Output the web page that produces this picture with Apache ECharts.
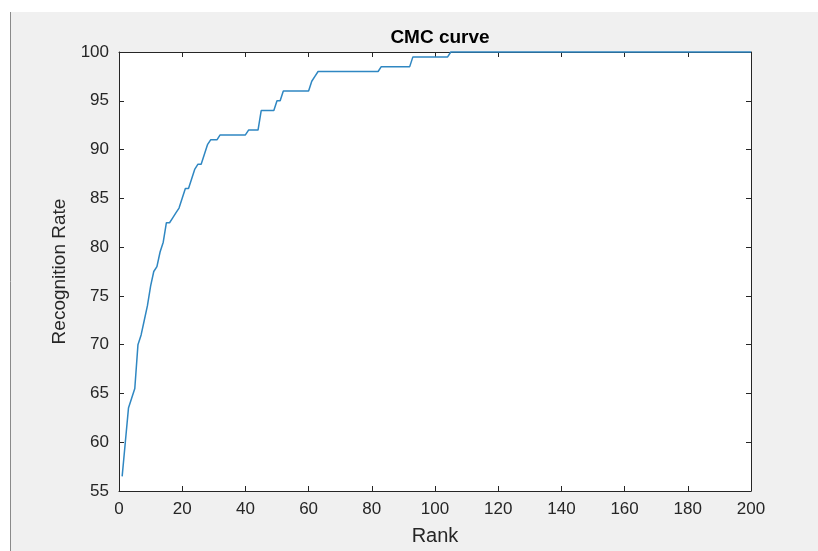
<!DOCTYPE html>
<html>
<head>
<meta charset="utf-8">
<title>CMC curve</title>
<script src="https://cdn.jsdelivr.net/npm/echarts@6/dist/echarts.min.js"></script>
<style>
html,body{margin:0;padding:0;background:#fff;}
#main{width:818px;height:551px;}
</style>
</head>
<body>
<div id="main"></div>
<script>
// rank 1..200 and the recognition rate (%)
var ranks = [];
for (var i = 1; i <= 200; i++) ranks.push(i);
var rates = [
	56.5, 60, 63.5, 64.5, 65.5, 70, 71, 72.5, 74, 76,
	77.5, 78, 79.5, 80.5, 82.5, 82.5, 83, 83.5, 84, 85,
	86, 86, 87, 88, 88.5, 88.5, 89.5, 90.5, 91, 91,
	91, 91.5, 91.5, 91.5, 91.5, 91.5, 91.5, 91.5, 91.5, 91.5,
	92, 92, 92, 92, 94, 94, 94, 94, 94, 95,
	95, 96, 96, 96, 96, 96, 96, 96, 96, 96,
	97, 97.5, 98, 98, 98, 98, 98, 98, 98, 98,
	98, 98, 98, 98, 98, 98, 98, 98, 98, 98,
	98, 98, 98.5, 98.5, 98.5, 98.5, 98.5, 98.5, 98.5, 98.5,
	98.5, 98.5, 99.5, 99.5, 99.5, 99.5, 99.5, 99.5, 99.5, 99.5,
	99.5, 99.5, 99.5, 99.5, 100, 100, 100, 100, 100, 100,
	100, 100, 100, 100, 100, 100, 100, 100, 100, 100,
	100, 100, 100, 100, 100, 100, 100, 100, 100, 100,
	100, 100, 100, 100, 100, 100, 100, 100, 100, 100,
	100, 100, 100, 100, 100, 100, 100, 100, 100, 100,
	100, 100, 100, 100, 100, 100, 100, 100, 100, 100,
	100, 100, 100, 100, 100, 100, 100, 100, 100, 100,
	100, 100, 100, 100, 100, 100, 100, 100, 100, 100,
	100, 100, 100, 100, 100, 100, 100, 100, 100, 100,
	100, 100, 100, 100, 100, 100, 100, 100, 100, 100
];
var xTicks = [0, 20, 40, 60, 80, 100, 120, 140, 160, 180, 200];
var yTicks = [55, 60, 65, 70, 75, 80, 85, 90, 95, 100];

var points = [];
for (var k = 0; k < ranks.length; k++) points.push([ranks[k], rates[k]]);

var font = 'Liberation Sans, Arial, sans-serif';
var axisColor = '#262626';

var chart = echarts.init(document.getElementById('main'));
var option = {
	backgroundColor: '#f0f0f0',
	animation: false,
	//白边 (截图的边)
	graphic: [
		{type: 'rect', shape: {x: 0, y: 0, width: 818, height: 12}, style: {fill: '#ffffff'}, z: -1},
		{type: 'rect', shape: {x: 0, y: 0, width: 10, height: 551}, style: {fill: '#ffffff'}, z: -1},
		{type: 'line', shape: {x1: 10.5, y1: 12, x2: 10.5, y2: 551}, style: {stroke: '#8a8a8a', lineWidth: 1}}
	],
	title: {
		text: 'CMC curve',
		left: 435,
		top: 23,
		textAlign: 'center',
		textStyle: {fontFamily: font, fontSize: 19, fontWeight: 'bold', color: '#000'}
	},
	grid: {left: 119, top: 52, right: 67, bottom: 54, show: true, backgroundColor: '#ffffff', borderWidth: 0},
	xAxis: [{
		type: 'value',
		min: xTicks[0],
		max: xTicks[xTicks.length - 1],
		interval: 20,
		name: 'Rank',
		nameLocation: 'middle',
		nameGap: 35,
		nameTextStyle: {fontFamily: font, fontSize: 20, color: axisColor},
		axisLine: {show: true, onZero: false, lineStyle: {color: axisColor, width: 1}},
		axisTick: {show: true, inside: true, length: 5, lineStyle: {color: axisColor}},
		axisLabel: {fontFamily: font, fontSize: 17, color: axisColor, margin: 10},
		splitLine: {show: false}
	}, {
		type: 'value',
		position: 'top',
		min: xTicks[0],
		max: xTicks[xTicks.length - 1],
		interval: 20,
		axisLine: {show: true, onZero: false, lineStyle: {color: axisColor, width: 1}},
		axisTick: {show: true, inside: true, length: 5, lineStyle: {color: axisColor}},
		axisLabel: {show: false},
		splitLine: {show: false}
	}],
	yAxis: [{
		type: 'value',
		min: yTicks[0],
		max: yTicks[yTicks.length - 1],
		interval: 5,
		name: 'Recognition Rate',
		nameLocation: 'middle',
		nameGap: 48,
		nameTextStyle: {fontFamily: font, fontSize: 19, color: axisColor},
		axisLine: {show: true, onZero: false, lineStyle: {color: axisColor, width: 1}},
		axisTick: {show: true, inside: true, length: 5, lineStyle: {color: axisColor}},
		axisLabel: {fontFamily: font, fontSize: 17, color: axisColor, margin: 10},
		splitLine: {show: false}
	}, {
		type: 'value',
		position: 'right',
		min: yTicks[0],
		max: yTicks[yTicks.length - 1],
		interval: 5,
		axisLine: {show: true, onZero: false, lineStyle: {color: axisColor, width: 1}},
		axisTick: {show: true, inside: true, length: 5, lineStyle: {color: axisColor}},
		axisLabel: {show: false},
		splitLine: {show: false}
	}],
	series: [{
		name: 'CMC',
		type: 'line',
		data: points,
		showSymbol: false,
		symbol: 'none',
		smooth: false,
		clip: false,
		lineStyle: {color: '#2f87c2', width: 1.5}
	}]
};
chart.setOption(option);
</script>
</body>
</html>
